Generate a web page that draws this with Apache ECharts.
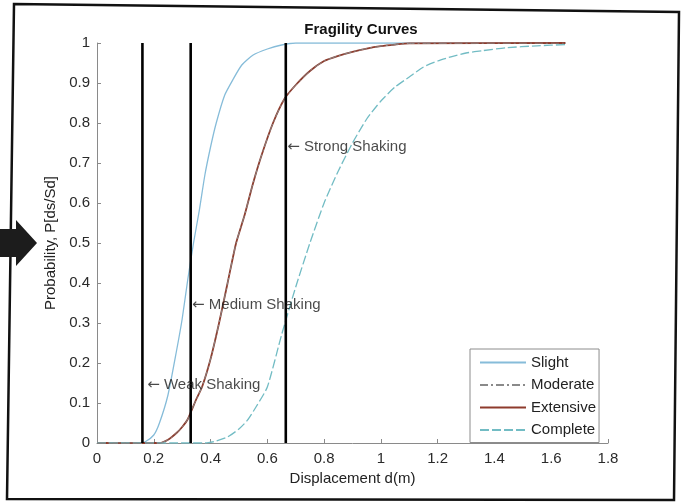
<!DOCTYPE html>
<html>
<head>
<meta charset="utf-8">
<title>Fragility Curves</title>
<script src="https://cdn.jsdelivr.net/npm/echarts@6/dist/echarts.min.js"></script>
<style>
  html, body { margin: 0; padding: 0; background: #fff; }
  #chart { width: 685px; height: 504px; }
</style>
</head>
<body>
<div id="chart"></div>
<script>
// Damage-state fragility curves: displacement d (m) vs exceedance probability
var slightX = [0, 0.15, 0.17, 0.2, 0.22, 0.25, 0.28, 0.3, 0.32, 0.34, 0.36, 0.38, 0.4, 0.42, 0.45, 0.48, 0.51, 0.55, 0.6, 0.65, 0.7, 1.65];
var slightY = [0, 0, 0.003, 0.02, 0.05, 0.12, 0.23, 0.31, 0.41, 0.5, 0.58, 0.67, 0.74, 0.8, 0.87, 0.91, 0.945, 0.97, 0.985, 0.995, 1, 1];

var moderateX = [0, 0.22, 0.25, 0.28, 0.3, 0.32, 0.35, 0.37, 0.4, 0.43, 0.46, 0.49, 0.52, 0.55, 0.58, 0.62, 0.66, 0.7, 0.75, 0.8, 0.85, 0.9, 0.95, 1.0, 1.05, 1.1, 1.65];
var moderateY = [0, 0, 0.008, 0.025, 0.04, 0.06, 0.11, 0.14, 0.21, 0.3, 0.4, 0.5, 0.57, 0.65, 0.72, 0.8, 0.86, 0.895, 0.93, 0.955, 0.968, 0.978, 0.986, 0.992, 0.996, 0.999, 1];

var extensiveX = [0, 0.22, 0.25, 0.28, 0.3, 0.32, 0.35, 0.37, 0.4, 0.43, 0.46, 0.49, 0.52, 0.55, 0.58, 0.62, 0.66, 0.7, 0.75, 0.8, 0.85, 0.9, 0.95, 1.0, 1.05, 1.1, 1.65];
var extensiveY = [0, 0, 0.008, 0.025, 0.04, 0.06, 0.11, 0.14, 0.21, 0.3, 0.4, 0.5, 0.57, 0.65, 0.72, 0.8, 0.86, 0.895, 0.93, 0.955, 0.968, 0.978, 0.986, 0.992, 0.996, 0.999, 1];

var completeX = [0, 0.38, 0.42, 0.46, 0.5, 0.53, 0.56, 0.6, 0.65, 0.7, 0.75, 0.8, 0.85, 0.9, 0.95, 1.0, 1.05, 1.1, 1.15, 1.2, 1.25, 1.3, 1.36, 1.44, 1.55, 1.65];
var completeY = [0, 0, 0.005, 0.015, 0.035, 0.057, 0.09, 0.14, 0.27, 0.39, 0.5, 0.6, 0.68, 0.75, 0.81, 0.855, 0.89, 0.915, 0.94, 0.955, 0.966, 0.975, 0.981, 0.988, 0.993, 0.996];

// Shaking levels drawn as vertical markers
var shakingNames = ['Weak Shaking', 'Medium Shaking', 'Strong Shaking'];
var shakingX = [0.16, 0.33, 0.665];
var shakingLabelX = [0.177, 0.335, 0.67];
var shakingLabelY = [0.145, 0.345, 0.74];

var xTicks = [0, 0.2, 0.4, 0.6, 0.8, 1, 1.2, 1.4, 1.6, 1.8];
var yTicks = [0, 0.1, 0.2, 0.3, 0.4, 0.5, 0.6, 0.7, 0.8, 0.9, 1];

function pairs(xs, ys) {
  return xs.map(function (x, i) { return [x, ys[i]]; });
}

var FONT = '"Liberation Sans", Arial, sans-serif';
var FS = 15;
var chart = echarts.init(document.getElementById('chart'), null, { renderer: 'canvas' });

function curve(name, xs, ys, color, width, type, z) {
  return {
    name: name, type: 'line', data: pairs(xs, ys),
    smooth: 0.2,
    symbol: 'none', showSymbol: false,
    lineStyle: { color: color, width: width, type: type },
    itemStyle: { color: color }, z: z
  };
}

var series = [
  curve('Slight', slightX, slightY, '#86bcd9', 1.3, 'solid', 3),
  curve('Extensive', extensiveX, extensiveY, '#8e3b2c', 1.8, 'solid', 3),
  curve('Moderate', moderateX, moderateY, '#8a8a8a', 1, [8, 3, 2, 3], 4),
  curve('Complete', completeX, completeY, '#72bcc4', 1.3, [9, 3], 3)
];

shakingX.forEach(function (x, i) {
  series.push({
    name: 'marker' + i, type: 'line', data: [[x, 0], [x, 1]],
    symbol: 'none', silent: true,
    lineStyle: { color: '#000', width: 2.6 }, z: 5
  });
  series.push({
    name: 'label' + i, type: 'scatter', symbolSize: 0, silent: true,
    data: [[shakingLabelX[i], shakingLabelY[i]]],
    label: {
      show: true, position: 'right', distance: 0,
      formatter: '{a|\u2190} ' + shakingNames[i],
      fontFamily: FONT, fontSize: FS, color: '#1a1a1a',
      rich: { a: { fontFamily: '"DejaVu Sans", sans-serif', fontSize: FS, color: '#1a1a1a' } }
    },
    z: 6
  });
});

chart.setOption({
  animation: false,
  backgroundColor: '#fff',
  title: {
    text: 'Fragility Curves',
    left: 356, top: 17, textAlign: 'center',
    textStyle: { fontFamily: FONT, fontSize: FS, fontWeight: 'bold', color: '#111' }
  },
  grid: { left: 97, right: 77, top: 43, bottom: 61, containLabel: false },
  legend: {
    data: ['Slight', 'Moderate', 'Extensive', 'Complete'],
    orient: 'vertical', left: 470, top: 349,
    backgroundColor: '#fff', borderColor: '#8c8c8c', borderWidth: 1,
    padding: [6, 3, 5, 9], itemGap: 7.5, itemWidth: 46, itemHeight: 14,
    itemStyle: { opacity: 0 },
    textStyle: { fontFamily: FONT, fontSize: FS, color: '#222' }
  },
  xAxis: {
    type: 'value', min: 0, max: 1.8, interval: 0.2,
    name: 'Displacement d(m)', nameLocation: 'middle', nameGap: 20,
    nameTextStyle: { fontFamily: FONT, fontSize: FS, color: '#222' },
    axisLine: { show: true, lineStyle: { color: '#8a8a8a', width: 1 } },
    axisTick: { show: true, inside: true, length: 4, lineStyle: { color: '#8a8a8a' } },
    axisLabel: {
      fontFamily: FONT, fontSize: FS, color: '#2a2a2a', margin: 8,
      formatter: function (v) {
        var t = xTicks.find(function (k) { return Math.abs(k - v) < 1e-6; });
        return t === undefined ? '' : String(t);
      }
    },
    splitLine: { show: false }
  },
  yAxis: {
    type: 'value', min: 0, max: 1, interval: 0.1,
    name: 'Probability, P[ds/Sd]', nameLocation: 'middle', nameGap: 32, nameRotate: 90,
    nameTextStyle: { fontFamily: FONT, fontSize: FS, color: '#222' },
    axisLine: { show: true, lineStyle: { color: '#8a8a8a', width: 1 } },
    axisTick: { show: true, inside: true, length: 4, lineStyle: { color: '#8a8a8a' } },
    axisLabel: {
      fontFamily: FONT, fontSize: FS, color: '#2a2a2a', margin: 7,
      formatter: function (v) {
        var t = yTicks.find(function (k) { return Math.abs(k - v) < 1e-6; });
        return t === undefined ? '' : String(t);
      }
    },
    splitLine: { show: false }
  },
  series: series,
  graphic: [
    {
      type: 'polygon', silent: true, z: 10,
      shape: { points: [[14, 4], [679, 12], [674, 500], [7, 499]] },
      style: { fill: 'none', stroke: '#111', lineWidth: 2.5 }
    },
    {
      type: 'polygon', silent: true, z: 11,
      shape: { points: [[0, 229], [16, 229], [16, 220], [37, 243], [16, 266], [16, 257], [0, 257]] },
      style: { fill: '#1c1c1c' }
    }
  ]
});
</script>
</body>
</html>
